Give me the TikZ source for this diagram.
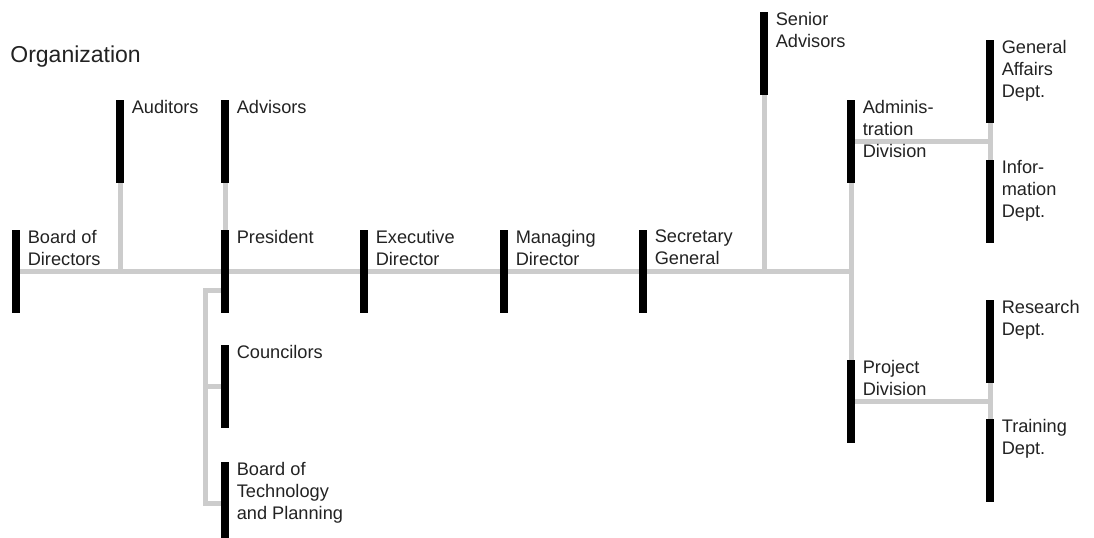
\documentclass[tikz,border=0pt]{standalone}
\usepackage{fontspec}
\setmainfont{Liberation Sans}
\usepackage{tikz}
\usetikzlibrary{backgrounds}
\definecolor{linkgray}{HTML}{CCCCCC}
\definecolor{txtgray}{HTML}{222222}

\begin{document}
\begin{tikzpicture}[x=0.5pt,y=-0.5pt,
  bar/.style={fill=black,inner sep=0pt,minimum width=4pt,minimum height=41.5pt},
  lbl/.style={anchor=north west,inner sep=0pt,xshift=3.5pt,align=left,text=txtgray,
    font=\fontsize{9.1}{11}\selectfont},
  link/.style={draw=linkgray,line width=2.5pt}]
\useasboundingbox (0,0) rectangle (1094,537);
\node[anchor=north west,inner sep=0pt,text=txtgray,font=\fontsize{11.5}{14}\selectfont] (title) at (10,45) {Organization};
\node[bar] (board) at (16,271.5) {};
\node[bar] (aud) at (120,141.5) {};
\node[bar] (adv) at (225,141.5) {};
\node[bar] (pres) at (225,271.5) {};
\node[bar] (cou) at (225,386.5) {};
\node[bar] (btp) at (225,503.5) {};
\node[bar] (exe) at (364,271.5) {};
\node[bar] (man) at (504,271.5) {};
\node[bar] (sec) at (643,271.5) {};
\node[bar] (sen) at (764,53.5) {};
\node[bar] (adm) at (851,141.5) {};
\node[bar] (prj) at (851,401.5) {};
\node[bar] (ga) at (990,81.5) {};
\node[bar] (inf) at (990,201.5) {};
\node[bar] (res) at (990,341.5) {};
\node[bar] (trn) at (990,460.5) {};
\node[lbl] (boardT) at (board.north east) {Board of\\Directors};
\node[lbl] (audT) at (aud.north east) {Auditors};
\node[lbl] (advT) at (adv.north east) {Advisors};
\node[lbl] (presT) at (pres.north east) {President};
\node[lbl] (couT) at (cou.north east) {Councilors};
\node[lbl] (btpT) at (btp.north east) {Board of\\Technology\\and Planning};
\node[lbl] (exeT) at (exe.north east) {Executive\\Director};
\node[lbl] (manT) at (man.north east) {Managing\\Director};
\node[lbl] (secT) at (sec.north east) {Secretary\\General};
\node[lbl] (senT) at (sen.north east) {Senior\\Advisors};
\node[lbl] (admT) at (adm.north east) {Adminis-\\tration\\Division};
\node[lbl] (prjT) at (prj.north east) {Project\\Division};
\node[lbl] (gaT) at (ga.north east) {General\\Affairs\\Dept.};
\node[lbl] (infT) at (inf.north east) {Infor-\\mation\\Dept.};
\node[lbl] (resT) at (res.north east) {Research\\Dept.};
\node[lbl] (trnT) at (trn.north east) {Training\\Dept.};
\coordinate (brk) at (205,290);
\begin{scope}[on background layer]
\draw[link] (board.center) -- (adm |- board);
\draw[link] (aud.south) -- (aud |- board);
\draw[link] (adv.south) -- (pres.north);
\draw[link] (sen.south) -- (sen |- board);
\draw[link] (adm.south) -- (prj.north);
\draw[link] (adm.center) -- (adm -| ga);
\draw[link] (ga.south) -- (inf.north);
\draw[link] (prj.center) -- (prj -| res);
\draw[link] (res.south) -- (trn.north);
\draw[link] (pres |- brk) -- (brk) |- (btp);
\draw[link] (brk |- cou) -- (cou);
\end{scope}
\end{tikzpicture}
\end{document}
